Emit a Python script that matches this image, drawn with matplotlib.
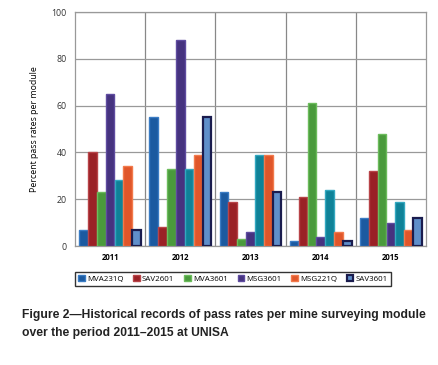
import matplotlib
matplotlib.use("Agg")
import matplotlib.pyplot as plt
import numpy as np

years = ["2011", "2012", "2013", "2014", "2015"]
series_names = ["MVA231Q", "SAV2601", "MVA3601", "MSG3601", "", "MSG221Q", "SAV3601"]
mva231q = [7, 55, 23, 2, 12]
sav2601 = [40, 8, 19, 21, 32]
mva3601 = [23, 33, 3, 61, 48]
msg3601 = [65, 88, 6, 4, 10]
unlabeled = [28, 33, 39, 24, 19]
msg221q = [34, 39, 39, 6, 7]
sav3601 = [7, 55, 23, 2, 12]
values = [mva231q, sav2601, mva3601, msg3601, unlabeled, msg221q, sav3601]

fills = ["#1b5aa0", "#9a2126", "#4a9a3c", "#46337f", "#0f8298", "#e0562a", "#5f8fca"]
edges = ["#3a7cc4", "#b84448", "#6cbc5c", "#5f4ca0", "#33a8c0", "#f27a4c", "#1a1c4e"]
lws = [1.0, 1.0, 1.0, 1.0, 1.0, 1.0, 1.6]

plt.rcParams['font.family'] = ['Open Sans', 'DejaVu Sans']
fig = plt.figure(figsize=(4.39, 3.65), dpi=100)
ax = fig.add_axes([75/439, 1-246/365, 351/439, 234/365])

x = np.arange(len(years))
w = 0.126
n = len(values)
for i, (vals, fc, ec, lw) in enumerate(zip(values, fills, edges, lws)):
    ax.bar(x + (i - (n-1)/2)*w, vals, width=w*0.98, color=fc, edgecolor=ec,
           linewidth=lw, label=series_names[i], zorder=3)

ax.set_xlim(-0.5, len(years)-0.5)
ax.set_ylim(0, 100)
ax.set_yticks(range(0, 101, 20))
ax.set_xticks(x)
ax.set_xticklabels(years, fontsize=5.6, fontweight='bold')
ax.tick_params(axis='y', labelsize=6.3, length=0, pad=6, colors='#333333')
ax.tick_params(axis='x', length=0, pad=5)
for b in np.arange(0.5, len(years)-0.5, 1):
    ax.axvline(b, color='#888888', lw=0.9, zorder=1)
ax.yaxis.grid(True, color='#999999', lw=0.9, zorder=1)
for s in ax.spines.values():
    s.set_color('#999999')
    s.set_linewidth(0.9)
ax.set_ylabel("Percent pass rates per module", fontsize=6.3, labelpad=9)

handles, labels = ax.get_legend_handles_labels()
keep = [k for k in range(len(labels)) if labels[k]]
leg = fig.legend([handles[k] for k in keep], [labels[k] for k in keep],
                 loc='center', bbox_to_anchor=(233/439, 1-279/365), ncol=6,
                 fontsize=5.7, frameon=True, fancybox=False, edgecolor='black',
                 handlelength=0.8, handleheight=0.8, handletextpad=0.3,
                 columnspacing=1.25, borderpad=0.35)
leg.get_frame().set_linewidth(1.0)

cap_font = ['Liberation Sans Narrow', 'Liberation Sans', 'DejaVu Sans']
fig.text(22/439, 1-315/365, "Figure 2\u2014Historical records of pass rates per mine surveying module",
         fontsize=8.7, fontweight='bold', family=cap_font, color='#222222', va='center')
fig.text(22/439, 1-333/365, "over the period 2011\u20132015 at UNISA",
         fontsize=8.7, fontweight='bold', family=cap_font, color='#222222', va='center')

fig.savefig("out.png", dpi=100)
